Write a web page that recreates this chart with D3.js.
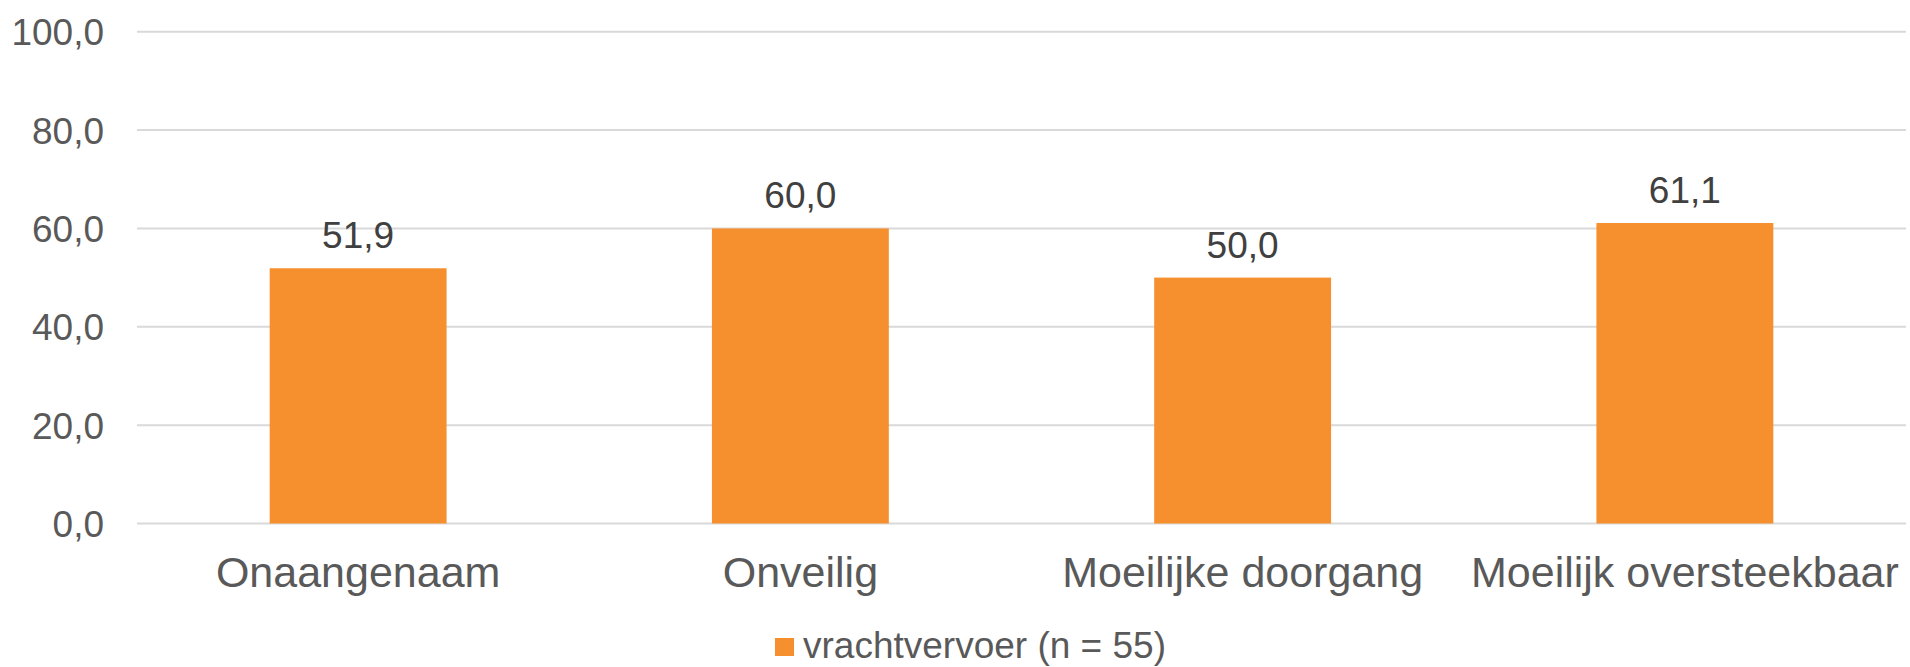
<!DOCTYPE html>
<html>
<head>
<meta charset="utf-8">
<script src="https://cdn.jsdelivr.net/npm/d3@7"></script>
<style>
  body { margin: 0; background: #fff; }
  svg { display: block; font-family: "Liberation Sans", Arial, sans-serif; }
</style>
</head>
<body>
<div id="chart"></div>
<script>
const categories = ['Onaangenaam', 'Onveilig', 'Moeilijke doorgang', 'Moeilijk oversteekbaar'];
const values = [51.9, 60.0, 50.0, 61.1];
const yTicks = [0, 20, 40, 60, 80, 100];
const seriesName = 'vrachtvervoer (n = 55)';

const w = 1910;
const h = 667;
const plotLeft = 137;
const plotRight = 1906;
const plotTop = 31.7;
const plotBottom = 523.5;
const orange = '#f6902e';

const fmt = (v) => d3.format('.1f')(v).replace('.', ',');

const svg = d3.select('#chart')
  .append('svg')
  .attr('width', w)
  .attr('height', h);

const xScale = d3.scaleBand()
  .domain(categories)
  .range([plotLeft, plotRight])
  .paddingInner(0.6)
  .paddingOuter(0.3);

const yScale = d3.scaleLinear()
  .domain([0, 100])
  .range([plotBottom, plotTop]);

// gridlines
svg.append('g')
  .selectAll('line')
  .data(yTicks)
  .enter()
  .append('line')
  .attr('x1', plotLeft)
  .attr('x2', plotRight)
  .attr('y1', (d) => yScale(d))
  .attr('y2', (d) => yScale(d))
  .attr('stroke', '#d9d9d9')
  .attr('stroke-width', 2);

// y axis labels
const yAxis = d3.axisLeft(yScale)
  .tickValues(yTicks)
  .tickFormat(fmt)
  .tickSize(0)
  .tickPadding(0);

const gy = svg.append('g')
  .attr('transform', 'translate(104,0)')
  .call(yAxis);
gy.select('.domain').remove();
gy.selectAll('text')
  .attr('fill', '#595959')
  .style('font-size', '37px')
  .style('font-family', '"Liberation Sans", Arial, sans-serif')
  .attr('dy', '0.35em');

// bars
svg.selectAll('rect.bar')
  .data(values)
  .enter()
  .append('rect')
  .attr('class', 'bar')
  .attr('x', (d, i) => xScale(categories[i]))
  .attr('width', xScale.bandwidth())
  .attr('y', (d) => yScale(d))
  .attr('height', (d) => yScale(0) - yScale(d))
  .attr('fill', orange);

// value labels
svg.selectAll('text.val')
  .data(values)
  .enter()
  .append('text')
  .attr('class', 'val')
  .attr('x', (d, i) => xScale(categories[i]) + xScale.bandwidth() / 2)
  .attr('y', (d) => yScale(d) - 20)
  .attr('text-anchor', 'middle')
  .attr('fill', '#404040')
  .style('font-size', '37px')
  .text(fmt);

// x axis labels
const xAxis = d3.axisBottom(xScale)
  .tickSize(0)
  .tickPadding(0);
const gx = svg.append('g')
  .attr('transform', `translate(0, ${plotBottom})`)
  .call(xAxis);
gx.select('.domain').remove();
gx.selectAll('text')
  .attr('y', 63)
  .attr('dy', 0)
  .attr('fill', '#595959')
  .style('font-size', '43px')
  .style('font-family', '"Liberation Sans", Arial, sans-serif');

// legend
const legend = svg.append('g').attr('transform', 'translate(775, 638)');
legend.append('rect')
  .attr('width', 19)
  .attr('height', 18)
  .attr('fill', orange);
legend.append('text')
  .attr('x', 28)
  .attr('y', 20)
  .attr('fill', '#595959')
  .style('font-size', '37px')
  .text(seriesName);
</script>
</body>
</html>
